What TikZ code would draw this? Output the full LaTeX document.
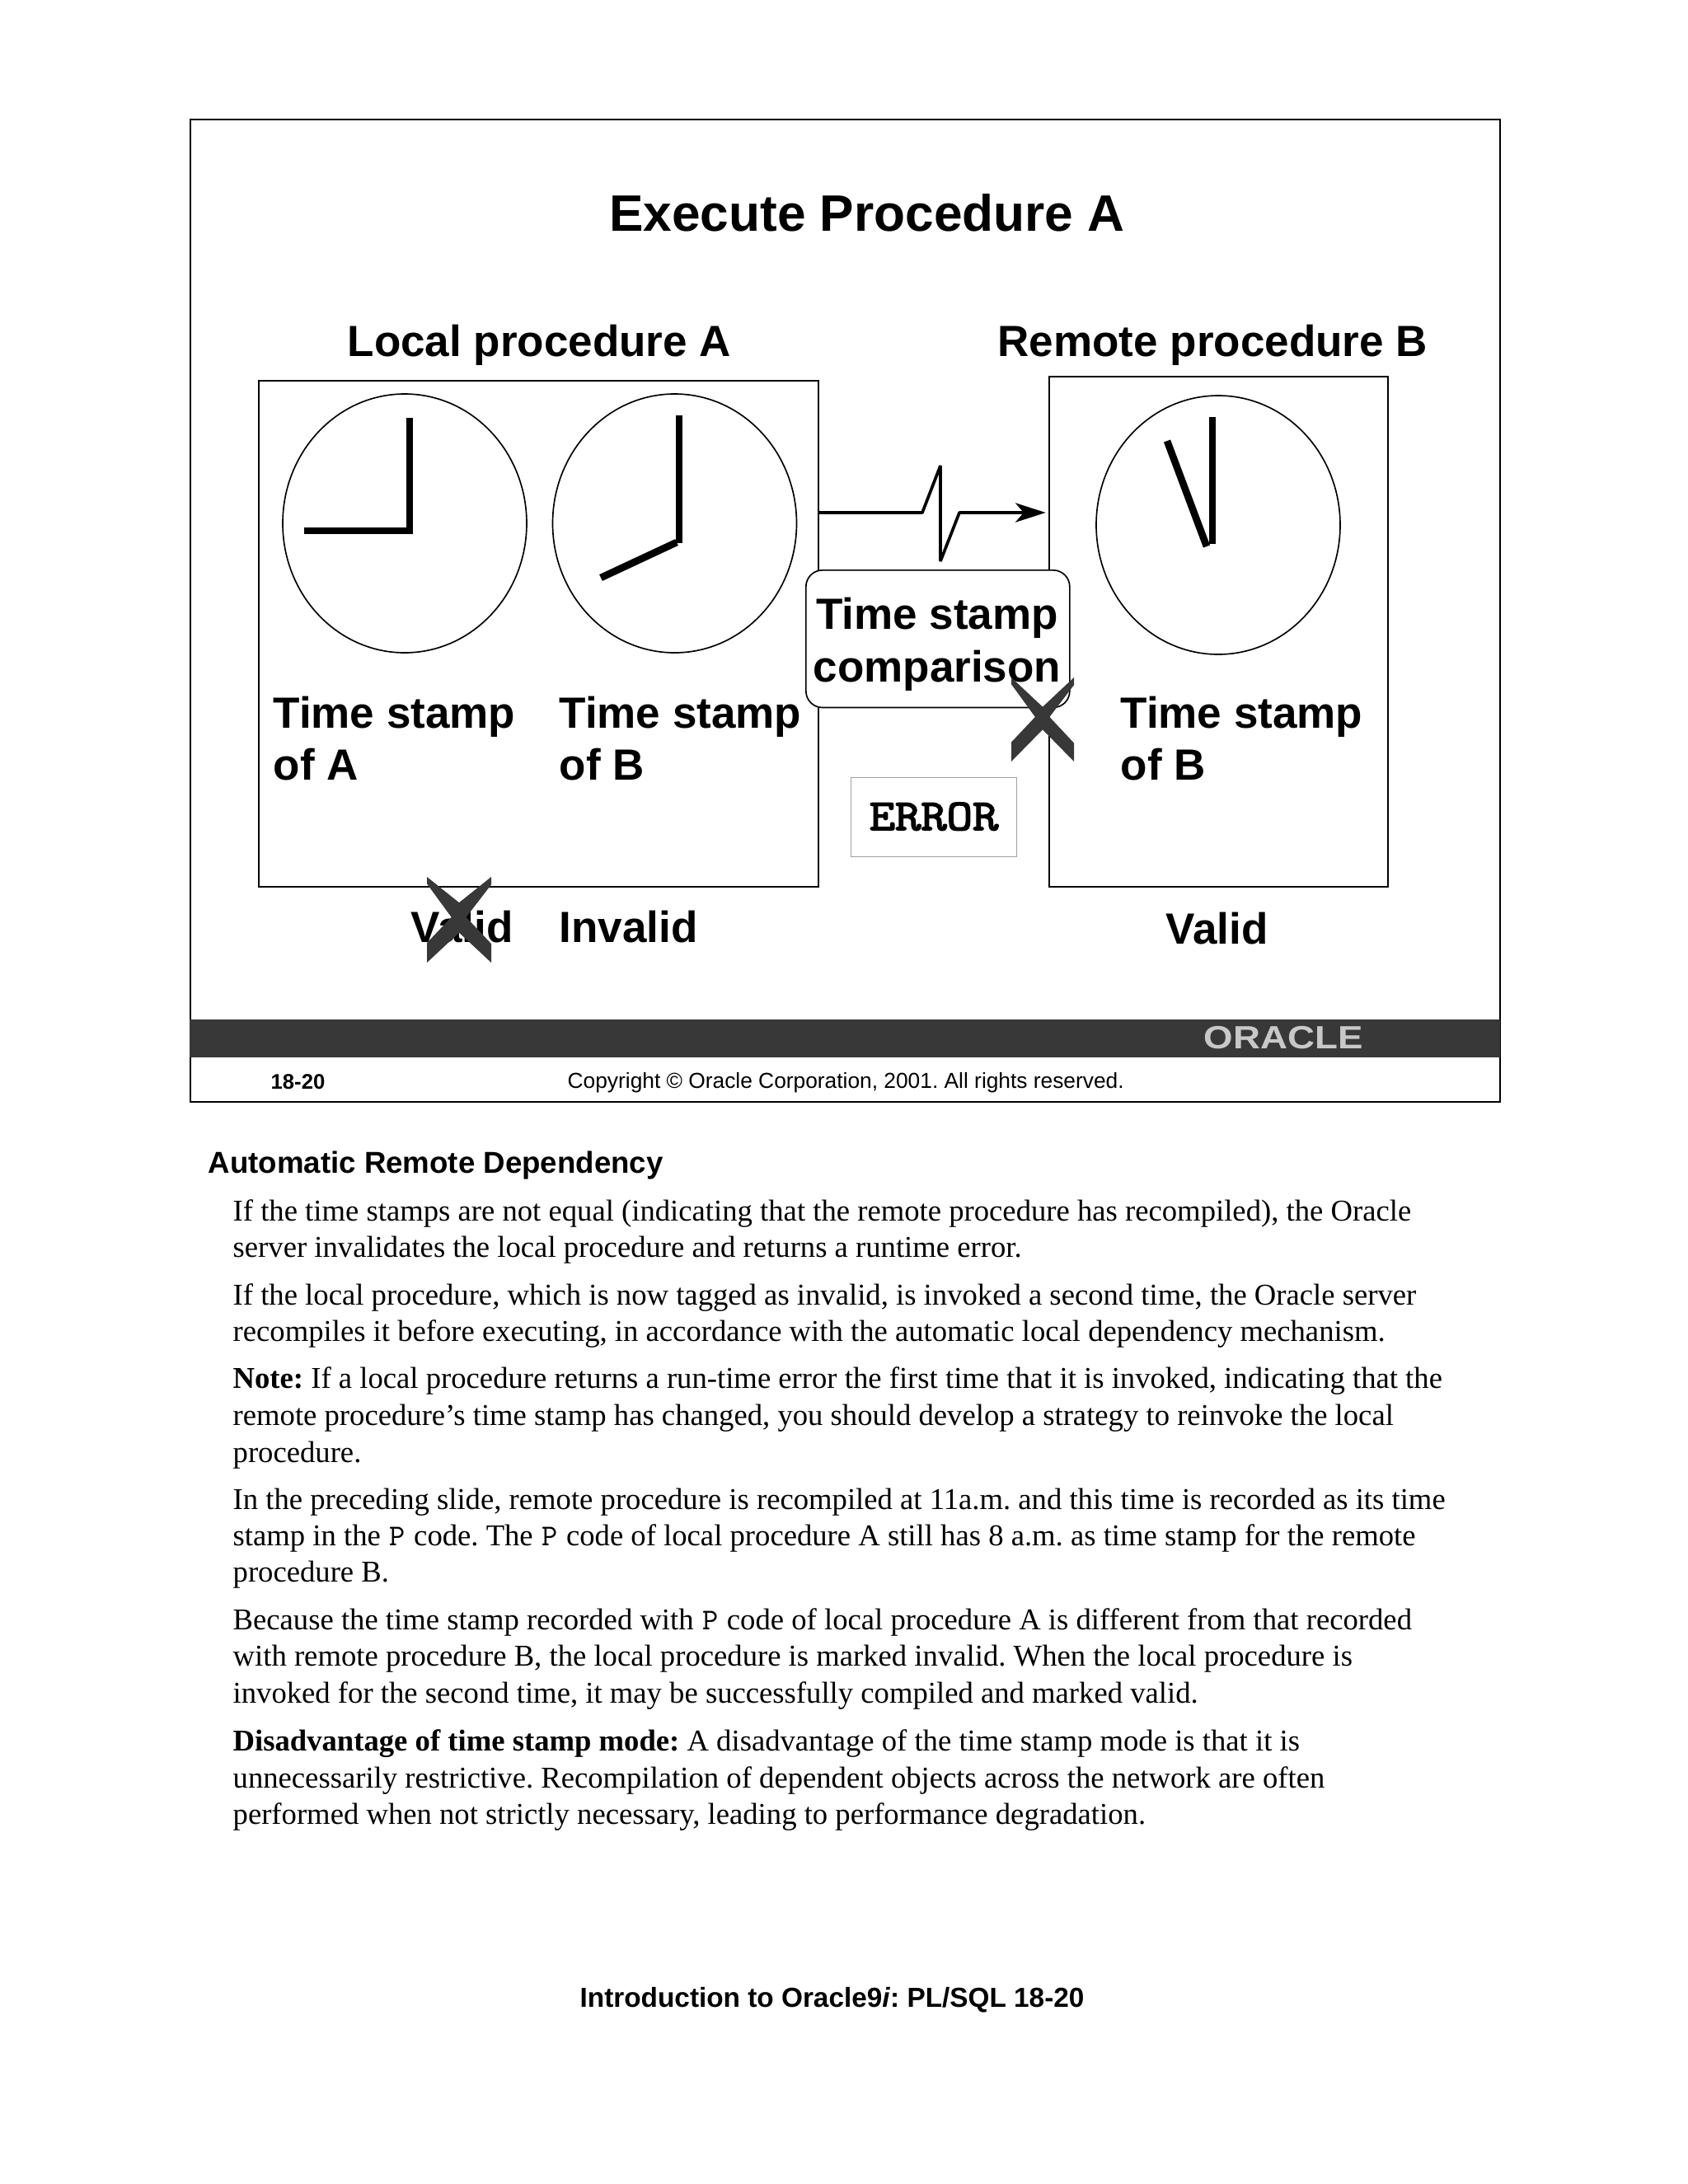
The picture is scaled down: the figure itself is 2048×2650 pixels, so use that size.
\documentclass[tikz,border=0pt]{standalone}
\usepackage{fontspec}
\setmainfont{Liberation Serif}
\setsansfont{Liberation Sans}
\setmonofont{Liberation Mono}
\newfontfamily\slabmono{Latin Modern Mono}
\newfontfamily\slabmonobold[FakeBold=3]{Latin Modern Mono}
\usetikzlibrary{arrows.meta}
\definecolor{slate}{HTML}{383838}
\definecolor{errgray}{HTML}{A0A0A0}
\definecolor{logogray}{HTML}{C8C8C8}
% x, y, width, height, top notch, bottom notch
\newcommand{\crossmark}[6]{%
  \fill[slate] (#1,#2)
    -- (#1+0.5*#3,#2+#5*#4) -- (#1+#3,#2) -- (#1+#3,#2+0.09*#4)
    -- (#1+0.61*#3,#2+0.47*#4) -- (#1+#3,#2+0.78*#4) -- (#1+#3,#2+#4)
    -- (#1+0.5*#3,#2+#6*#4) -- (#1,#2+#4) -- (#1,#2+0.77*#4)
    -- (#1+0.38*#3,#2+0.47*#4) -- (#1,#2+0.08*#4) -- cycle;}
\newcommand{\mono}[1]{\makebox[6.6pt][c]{\slabmono\fontsize{11}{11}\selectfont #1}}
\tikzset{
  slidetxt/.style={font=\fontsize{#1}{#1}\selectfont\sffamily\bfseries,inner sep=0pt,anchor=base west},
  bodyline/.style={font=\fontsize{11}{11}\selectfont,inner sep=0pt,anchor=base west},
  procbox/.style={draw=black,line width=0.7pt,inner sep=0pt,anchor=north west},
  clockhand/.style={line width=2.6pt,line cap=butt},
  spike/.style={line width=1.1pt,line join=bevel,-{Stealth[length=11pt,width=7pt,inset=3pt]},shorten >=1pt}
}
\begin{document}
\frenchspacing
\begin{tikzpicture}[x=0.3pt,y=-0.3pt]
\useasboundingbox (0,0) rectangle (2048,2650);
\fill[white] (0,0) rectangle (2048,2650);
% slide frame
\node[procbox,minimum width=476.6pt,minimum height=357.6pt,line width=0.6pt] (frame) at (230,144) {};
\fill[slate] (230,1237) rectangle (1820,1283);
\node[inner sep=0pt,anchor=base west,text=logogray,font=\fontsize{11.7}{11.7}\selectfont\sffamily\bfseries,xscale=1.17,transform shape] (logo) at (1460,1272) {ORACLE};
% boxes
\node[procbox,minimum width=203.7pt,minimum height=184.2pt] (local) at (312.6,461) {};
\node[procbox,minimum width=123.3pt,minimum height=185.7pt] (remote) at (1272,456) {};
% clocks
\draw[line width=0.5pt] (491,635) ellipse (148 and 157);
\draw[line width=0.5pt] (818.5,635) ellipse (148 and 157);
\draw[line width=0.5pt] (1478,637) ellipse (148 and 157);
\draw[clockhand] (497,507) -- (497,648);
\draw[clockhand] (369,644) -- (501,644);
\draw[clockhand] (824,504) -- (824,659);
\draw[clockhand] (729,701) -- (821,658);
\draw[clockhand] (1471,506) -- (1471,660);
\draw[clockhand] (1416,535) -- (1464,663);
% connector
\coordinate (sy) at (0,622);
\draw[spike] (local.east |- sy) -- (1119,622) -- (1141,565) -- (1141,681) -- (1164,622) -- (remote.west |- sy);
% comparison
\node[draw=black,line width=0.5pt,fill=white,rounded corners=6pt,inner sep=0pt,anchor=north west,minimum width=96pt,minimum height=50pt] (cmp) at (977,691) {};
\node[slidetxt=15.9,anchor=base] (c1) at (1137,763) {Time stamp};
\node[slidetxt=15.9,anchor=base] (c2) at (1137,827) {comparison};
% error
\node[draw=errgray,line width=0.4pt,inner sep=0pt,anchor=north west,minimum width=60.3pt,minimum height=28.8pt] (errbox) at (1032,943) {};
\node[font=\fontsize{16}{16}\selectfont\slabmonobold,inner sep=0pt,anchor=base,xscale=1.14,transform shape] (errtxt) at (1133,1007) {ERROR};
% titles
\node[slidetxt=18.65,anchor=base] (title) at (1052,280) {Execute Procedure A};
\node[slidetxt=15.9] (lp) at (421,432) {Local procedure A};
\node[slidetxt=15.9] (rp) at (1210,432) {Remote procedure B};
\node[slidetxt=15.9] (t1) at (331,883) {Time stamp};
\node[slidetxt=15.9] (t1b) at (331,946) {of A};
\node[slidetxt=15.9] (t2) at (678,883) {Time stamp};
\node[slidetxt=15.9] (t2b) at (678,946) {of B};
\node[slidetxt=15.9] (t3) at (1359,883) {Time stamp};
\node[slidetxt=15.9] (t3b) at (1359,946) {of B};
\node[slidetxt=15.9] (v1) at (498,1143) {Valid};
\node[slidetxt=15.9] (v2) at (678,1143) {Invalid};
\node[slidetxt=15.9] (v3) at (1414,1145) {Valid};
\crossmark{1227}{822}{76}{102}{0.35}{0.62}
\crossmark{518}{1064}{78}{104}{0.30}{0.65}
% footer
\node[slidetxt=7.7] (num) at (328,1321) {18-20};
\node[font=\fontsize{7.9}{7.9}\selectfont\sffamily,inner sep=0pt,anchor=base west] (copy) at (688,1320) {Copyright © Oracle Corporation, 2001. All rights reserved.};
% text
\node[slidetxt=11] (head) at (252,1423) {Automatic Remote Dependency};
\node[bodyline] (b1) at (282,1481) {If the time stamps are not equal (indicating that the remote procedure has recompiled), the Oracle};
\node[bodyline] (b2) at (282,1525) {server invalidates the local procedure and returns a runtime error.};
\node[bodyline] (b3) at (282,1583) {If the local procedure, which is now tagged as invalid, is invoked a second time, the Oracle server};
\node[bodyline] (b4) at (282,1627) {recompiles it before executing, in accordance with the automatic local dependency mechanism.};
\node[bodyline] (b5) at (282,1684) {\textbf{Note:} If a local procedure returns a run-time error the first time that it is invoked, indicating that the};
\node[bodyline] (b6) at (282,1729) {remote procedure’s time stamp has changed, you should develop a strategy to reinvoke the local};
\node[bodyline] (b7) at (282,1774) {procedure.};
\node[bodyline] (b8) at (282,1831) {In the preceding slide, remote procedure is recompiled at 11a.m. and this time is recorded as its time};
\node[bodyline] (b9) at (282,1875) {stamp in the \mono{P} code. The \mono{P} code of local procedure A still has 8 a.m. as time stamp for the remote};
\node[bodyline] (b10) at (282,1919) {procedure B.};
\node[bodyline] (b11) at (282,1977) {Because the time stamp recorded with \mono{P} code of local procedure A is different from that recorded};
\node[bodyline] (b12) at (282,2021) {with remote procedure B, the local procedure is marked invalid. When the local procedure is};
\node[bodyline] (b13) at (282,2066) {invoked for the second time, it may be successfully compiled and marked valid.};
\node[bodyline] (b14) at (282,2124) {\textbf{Disadvantage of time stamp mode:} A disadvantage of the time stamp mode is that it is};
\node[bodyline] (b15) at (282,2169) {unnecessarily restrictive. Recompilation of dependent objects across the network are often};
\node[bodyline] (b16) at (282,2213) {performed when not strictly necessary, leading to performance degradation.};
\node[slidetxt=10] (foot) at (703,2435) {Introduction to Oracle9\textit{i}: PL/SQL 18-20};
\end{tikzpicture}
\end{document}
